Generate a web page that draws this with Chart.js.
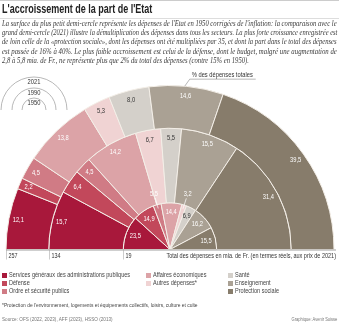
<!DOCTYPE html>
<html lang="fr">
<head>
<meta charset="utf-8">
<script src="https://cdn.jsdelivr.net/npm/chart.js@4/dist/chart.umd.min.js"></script>
<style>
  html, body { margin: 0; padding: 0; background: #fff; }
  #cadre { position: relative; width: 339px; height: 327px; overflow: hidden; font-family: "Liberation Sans", Arial, sans-serif; color: #333; }
  #grafica { position: absolute; left: 0; top: 0; }
  .etroit { display: inline-block; transform-origin: 0 50%; white-space: nowrap; }
  .ligneHaut { position: absolute; left: 0; top: 0; width: 339px; height: 1px; background: #ccc; }
  h1 { position: absolute; left: 2px; top: 2px; margin: 0; font-size: 12.5px; font-weight: bold; color: #222; white-space: nowrap; }
  h1 .etroit { transform: scaleX(0.72); }
  .regle { position: absolute; left: 0; top: 18px; width: 339px; height: 1px; background: #ddd; }
  #intro { position: absolute; left: 2px; top: 20px; width: 335px; font-family: "Liberation Serif", "DejaVu Serif", serif; font-style: italic; font-size: 7.2px; line-height: 9.2px; color: #3a3a3a; }
  #intro div { white-space: nowrap; height: 9.2px; }
  #legende { position: absolute; left: 2px; top: 271px; width: 336px; font-size: 6.8px; color: #444; }
  .colonne { position: absolute; top: 0; }
  .item { height: 8.2px; line-height: 8.2px; white-space: nowrap; }
  .item span { display: inline-block; width: 5px; height: 5px; margin-right: 2px; vertical-align: -0.5px; }
  .item .etroit { transform: scaleX(0.82); }
  #note { position: absolute; left: 2px; top: 302px; font-size: 5.8px; color: #444; white-space: nowrap; }
  #note .etroit { transform: scaleX(0.84); }
  #source { position: absolute; left: 2px; top: 316px; width: 335px; font-size: 5.8px; color: #777; }
  #source .etroit { transform: scaleX(0.8); }
  #source .droite { position: absolute; right: 0; top: 0; transform-origin: 100% 50%; transform: scaleX(0.7); }
</style>
</head>
<body>
<div id="cadre">
  <canvas id="grafica" width="339" height="327"></canvas>
  <div class="ligneHaut"></div>
  <h1><span class="etroit">L'accroissement de la part de l'Etat</span></h1>
  <div class="regle"></div>
  <div id="intro">
    <div><span class="etroit">La surface du plus petit demi-cercle représente les dépenses de l'Etat en 1950 corrigées de l'inflation: la comparaison avec le</span></div>
    <div><span class="etroit">grand demi-cercle (2021) illustre la démultiplication des dépenses dans tous les secteurs. La plus forte croissance enregistrée est</span></div>
    <div><span class="etroit">de loin celle de la «protection sociale», dont les dépenses ont été multipliées par 35, et dont la part dans le total des dépenses</span></div>
    <div><span class="etroit">est passée de 16% à 40%. Le plus faible accroissement est celui de la défense, dont le budget, malgré une augmentation de</span></div>
    <div class="fin"><span class="etroit">2,8 à 5,8 mia. de Fr., ne représente plus que 2% du total des dépenses (contre 15% en 1950).</span></div>
  </div>
  <div id="legende"></div>
  <div id="note"><span class="etroit">*Protection de l'environnement, logements et équipements collectifs, loisirs, culture et culte</span></div>
  <div id="source"><span class="etroit">Source: OFS (2022, 2023), AFF (2023), HSSO (2013)</span><span class="etroit droite">Graphique: Avenir Suisse</span></div>
</div>
<script>
// Données (en % des dépenses totales), anneau extérieur en premier
const annees = ['2021', '1990', '1950'];
const totaux = [257, 134, 19]; // total des dépenses, mia. de Fr.
const categories = [
    'Services généraux des administrations publiques',
    'Défense',
    'Ordre et sécurité publics',
    'Affaires économiques',
    'Autres dépenses*',
    'Santé',
    'Enseignement',
    'Protection sociale'
];
const parts2021 = [12.1, 2.2, 4.5, 13.8, 5.3, 8.0, 14.6, 39.5];
const parts1990 = [15.7, 6.4, 4.5, 14.2, 6.7, 5.5, 15.5, 31.4];
const parts1950 = [23.5, 14.9, 5.5, 14.4, 3.2, 6.9, 16.2, 15.5];

const colores = ['#a8183b', '#c2485b', '#d07b85', '#dca3a7', '#f0d3d3', '#d4d0ca', '#aaa194', '#877c6b'];
const coloresTexte = ['#fff', '#fff', '#fff', '#fff', '#333', '#333', '#fff', '#fff'];
const police = '"Liberation Sans", Arial, sans-serif';

const fmt = v => v.toFixed(1).replace('.', ',');

// 🔹 Texte d'intro : chaque ligne ajustée à la largeur (police étroite simulée)
const lignes = [...document.querySelectorAll('#intro .etroit')];
const largeurIntro = 335;
let facteurs = [];
lignes.slice(0, 4).forEach(s => {
    const f = largeurIntro / s.offsetWidth;
    facteurs.push(f);
    s.style.transform = `scaleX(${f})`;
});
const moyenne = facteurs.reduce((a, b) => a + b, 0) / facteurs.length;
lignes[4].style.transform = `scaleX(${moyenne})`;

// 🔹 Légende HTML en trois colonnes
const groupes = [[0, 1, 2], [3, 4], [5, 6, 7]];
const positionsColonnes = [0, 144, 226];
const legende = document.getElementById('legende');
groupes.forEach((g, k) => {
    const col = document.createElement('div');
    col.className = 'colonne';
    col.style.left = positionsColonnes[k] + 'px';
    g.forEach(i => {
        const it = document.createElement('div');
        it.className = 'item';
        it.innerHTML = `<span style="background:${colores[i]}"></span><b class="etroit" style="font-weight:normal">${categories[i]}</b>`;
        col.appendChild(it);
    });
    legende.appendChild(col);
});

// texte condensé sur le canvas
function texte(ctx, txt, x, y, sx) {
    ctx.save();
    ctx.translate(x, y);
    ctx.scale(sx, 1);
    ctx.fillText(txt, 0, 0);
    ctx.restore();
}

// 🔹 Étiquettes, axe et annotations dessinées sur le canvas
const etiquettes = {
    id: 'etiquettes',
    afterDatasetsDraw(chart) {
        const { ctx } = chart;
        ctx.save();
        ctx.font = `7.2px ${police}`;
        ctx.textAlign = 'center';
        ctx.textBaseline = 'middle';
        chart.data.datasets.forEach((ds, i) => {
            const meta = chart.getDatasetMeta(i);
            meta.data.forEach((arc, j) => {
                const p = arc.getProps(['x', 'y', 'startAngle', 'endAngle', 'outerRadius'], true);
                const a = (p.startAngle + p.endAngle) / 2;
                const v = ds.data[j];
                if (i === 2 && v < 6) {
                    // petite part : étiquette à l'extérieur avec trait
                    ctx.strokeStyle = '#fff';
                    ctx.lineWidth = 0.7;
                    ctx.beginPath();
                    ctx.moveTo(p.x + Math.cos(a) * (p.outerRadius - 4), p.y + Math.sin(a) * (p.outerRadius - 4));
                    ctx.lineTo(p.x + Math.cos(a) * (p.outerRadius + 7), p.y + Math.sin(a) * (p.outerRadius + 7));
                    ctx.stroke();
                    ctx.fillStyle = '#fff';
                    texte(ctx, fmt(v), p.x + Math.cos(a) * (p.outerRadius + 11.5), p.y + Math.sin(a) * (p.outerRadius + 11.5), 0.8);
                } else {
                    const r = p.outerRadius - 9.5;
                    ctx.fillStyle = coloresTexte[j];
                    texte(ctx, fmt(v), p.x + Math.cos(a) * r, p.y + Math.sin(a) * r, 0.8);
                }
            });
        });
        ctx.restore();
    },
    afterDraw(chart) {
        const { ctx } = chart;
        const arc0 = chart.getDatasetMeta(0).data[0];
        const { x: cx, y: cy, outerRadius: R } = arc0.getProps(['x', 'y', 'outerRadius'], true);
        ctx.save();
        // ligne de base
        ctx.strokeStyle = '#888';
        ctx.lineWidth = 0.8;
        ctx.beginPath();
        ctx.moveTo(cx - R, cy + 0.5);
        ctx.lineTo(cx + R + 2, cy + 0.5);
        ctx.stroke();
        // graduations = totaux
        ctx.font = `6.8px ${police}`;
        ctx.fillStyle = '#333';
        ctx.textBaseline = 'middle';
        ctx.textAlign = 'left';
        chart.data.datasets.forEach((ds, i) => {
            const r = chart.getDatasetMeta(i).data[0].outerRadius;
            const x = Math.round(cx - r) + 0.5;
            ctx.strokeStyle = '#aaa';
            ctx.lineWidth = 0.6;
            ctx.beginPath();
            ctx.moveTo(x, cy);
            ctx.lineTo(x, cy + 10);
            ctx.stroke();
            texte(ctx, String(totaux[i]), x + 2, cy + 6.5, 0.8);
        });
        ctx.textAlign = 'right';
        texte(ctx, 'Total des dépenses en mia. de Fr. (en termes réels, aux prix de 2021)', cx + R + 2, cy + 6.5, 0.81);

        // annotation « % des dépenses totales »
        const a = -Math.PI / 2 + 0.09;
        const px = cx + Math.cos(a) * R, py = cy + Math.sin(a) * R;
        ctx.strokeStyle = '#888';
        ctx.lineWidth = 0.6;
        ctx.beginPath();
        ctx.moveTo(px, py);
        ctx.lineTo(px + 5, py - 7);
        ctx.lineTo(px + 71, py - 7);
        ctx.stroke();
        ctx.textAlign = 'left';
        ctx.textBaseline = 'alphabetic';
        ctx.font = `7.2px ${police}`;
        texte(ctx, '% des dépenses totales', px + 7, py - 9, 0.8);

        // petite légende des demi-cercles
        const lx = 34, ly = 110;
        const rayons = [33, 22, 12];
        ctx.strokeStyle = '#999';
        ctx.lineWidth = 0.7;
        ctx.font = `6.8px ${police}`;
        ctx.textAlign = 'center';
        ctx.textBaseline = 'middle';
        annees.forEach((an, i) => {
            ctx.beginPath();
            ctx.arc(lx, ly, rayons[i], Math.PI, 0);
            ctx.stroke();
            texte(ctx, an, lx, ly - rayons[i] + 5, 0.85);
        });
        ctx.restore();
    }
};

const grafica = new Chart(document.getElementById('grafica').getContext('2d'), {
    type: 'doughnut',
    data: {
        labels: categories,
        datasets: [
            { label: annees[0], data: parts2021, backgroundColor: colores, borderColor: '#f3eee7', borderWidth: 1, weight: 43 },
            { label: annees[1], data: parts1990, backgroundColor: colores, borderColor: '#f3eee7', borderWidth: 1, weight: 75 },
            { label: annees[2], data: parts1950, backgroundColor: colores, borderColor: '#f3eee7', borderWidth: 1, weight: 47 }
        ]
    },
    options: {
        responsive: false,
        animation: false,
        cutout: 0,
        rotation: -90,
        circumference: 180,
        layout: { padding: { left: 5, right: 4, top: 85, bottom: 77 } },
        plugins: {
            legend: { display: false },
            tooltip: {
                callbacks: {
                    label: (c) => `${c.dataset.label} – ${c.label}: ${fmt(c.raw)} %`
                }
            }
        }
    },
    plugins: [etiquettes]
});
</script>
</body>
</html>
